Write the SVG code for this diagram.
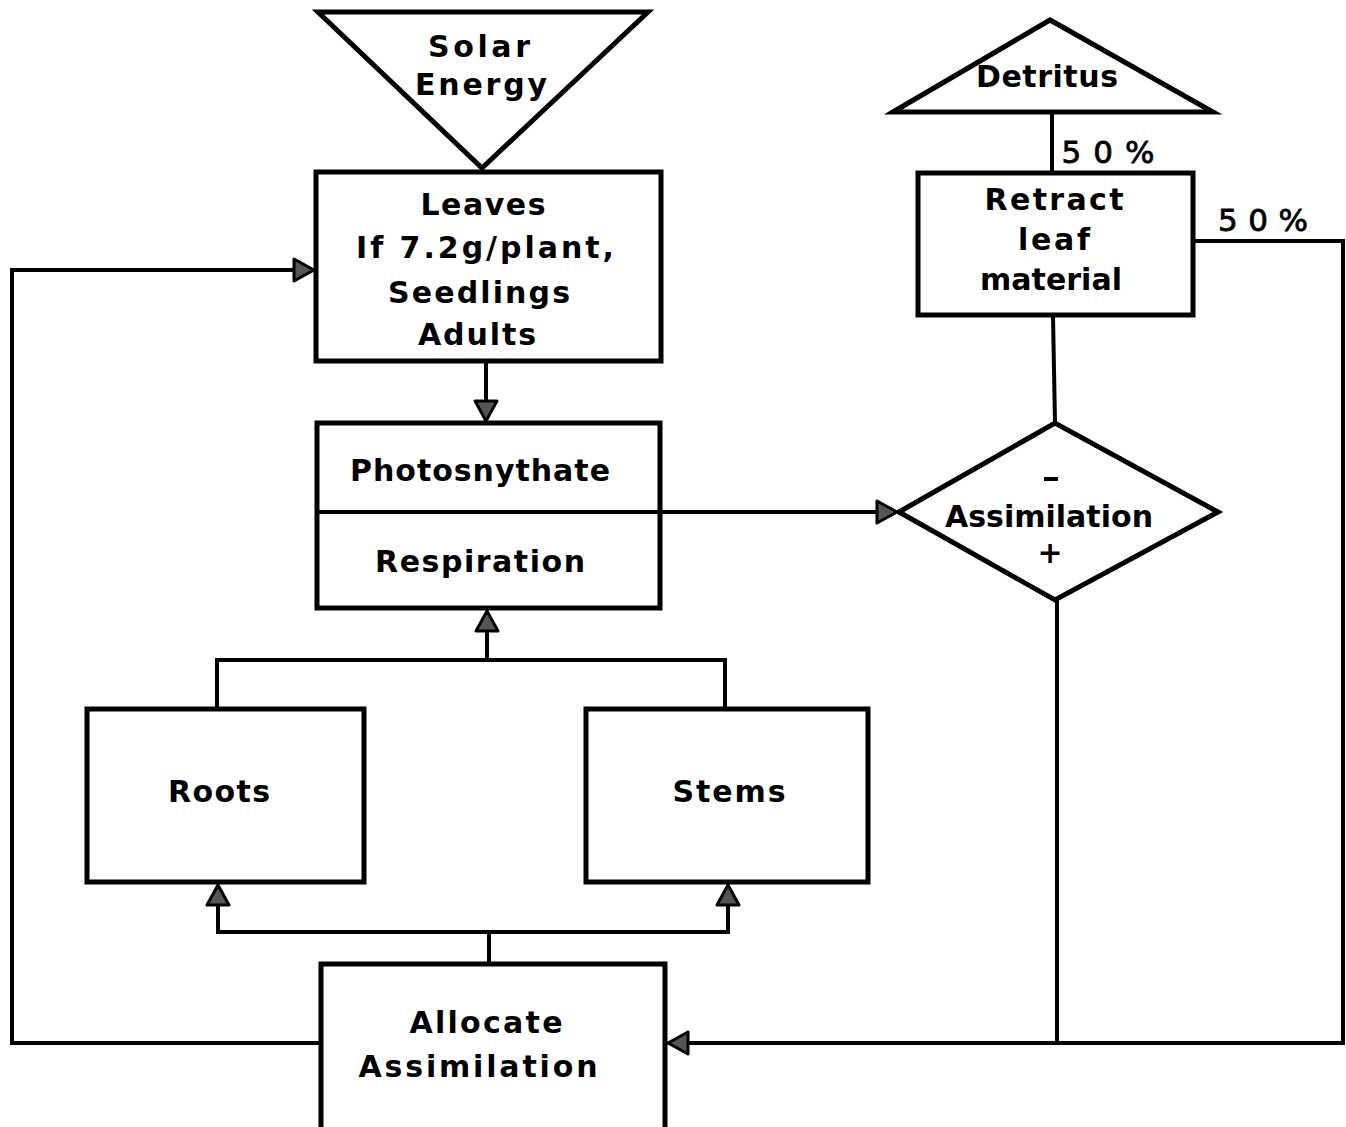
<svg xmlns="http://www.w3.org/2000/svg" width="1346" height="1127" viewBox="0 0 1346 1127">
<style>
.box{fill:#fff;stroke:#000;stroke-width:5;stroke-linejoin:miter}
.ln{fill:none;stroke:#000;stroke-width:4}
.ah{fill:#555;stroke:#000;stroke-width:3;stroke-linejoin:round}
text{font-family:"DejaVu Sans","Liberation Sans",Arial,sans-serif;font-weight:bold;font-size:30px;fill:#000;text-anchor:middle}
.pct{font-size:31px;font-weight:normal;stroke:#000;stroke-width:0.8}
</style>
<rect width="1346" height="1127" fill="#fff"/>
<g id="connectors">
<line class="ln" x1="486" y1="362" x2="486" y2="404"/>
<path class="ah" d="M475,401 L497,401 L486,421 Z"/>
<line class="ln" x1="661" y1="512" x2="880" y2="512"/>
<path class="ah" d="M877,501 L877,523 L897,512 Z"/>
<path class="ln" d="M217,708 V660 H725 V708"/>
<line class="ln" x1="487" y1="660" x2="487" y2="628"/>
<path class="ah" d="M476,631 L498,631 L487,611 Z"/>
<path class="ln" d="M489,963 V932 H218 V902"/>
<path class="ln" d="M489,932 H728 V902"/>
<path class="ah" d="M207,905 L229,905 L218,885 Z"/>
<path class="ah" d="M717,905 L739,905 L728,885 Z"/>
<path class="ln" d="M320,1043 H12 V270 H296"/>
<path class="ah" d="M294,259 L294,281 L314,270 Z"/>
<line class="ln" x1="1052" y1="112" x2="1052" y2="172"/>
<line class="ln" x1="1053" y1="316" x2="1055" y2="423"/>
<line class="ln" x1="1057" y1="600" x2="1057" y2="1043"/>
<path class="ln" d="M1193,241 H1343 V1043 H686"/>
<path class="ah" d="M688,1032 L688,1054 L668,1043 Z"/>
</g>
<g id="solar">
<path class="box" d="M318,12 L648,12 L482,168 Z"/>
<text x="479" y="57" textLength="102" lengthAdjust="spacing">Solar</text>
<text x="481" y="95" textLength="132" lengthAdjust="spacing">Energy</text>
</g>
<g id="leaves">
<rect class="box" x="316" y="172" width="345" height="189"/>
<text x="483" y="215" textLength="125" lengthAdjust="spacing">Leaves</text>
<text x="485" y="258" textLength="258" lengthAdjust="spacing">If 7.2g/plant,</text>
<text x="479" y="303" textLength="182" lengthAdjust="spacing">Seedlings</text>
<text x="477" y="345" textLength="118" lengthAdjust="spacing">Adults</text>
</g>
<g id="photosynthate">
<rect class="box" x="317" y="423" width="343" height="185"/>
<line class="ln" x1="317" y1="512" x2="660" y2="512" stroke-width="4.5"/>
<text x="480" y="481" textLength="260" lengthAdjust="spacing">Photosnythate</text>
<text x="480" y="572" textLength="210" lengthAdjust="spacing">Respiration</text>
</g>
<g id="assimilation">
<path class="box" d="M899,512 L1055,423 L1218,512 L1055,600 Z"/>
<line x1="1044" y1="479" x2="1058" y2="479" stroke="#000" stroke-width="4"/>
<text x="1049" y="527" textLength="208" lengthAdjust="spacing">Assimilation</text>
<text x="1050" y="563">+</text>
</g>
<g id="detritus">
<path class="box" d="M893,112 L1050,20 L1213,112 Z"/>
<text x="1047" y="87" textLength="142" lengthAdjust="spacing">Detritus</text>
</g>
<g id="retract">
<rect class="box" x="918" y="173" width="275" height="142"/>
<text x="1054" y="210" textLength="139" lengthAdjust="spacing">Retract</text>
<text x="1054" y="250" textLength="72" lengthAdjust="spacing">leaf</text>
<text x="1051" y="290" textLength="142" lengthAdjust="spacing">material</text>
</g>
<text class="pct" x="1108" y="163" textLength="93" lengthAdjust="spacing">50%</text>
<text class="pct" x="1263" y="231" textLength="90" lengthAdjust="spacing">50%</text>
<g id="roots">
<rect class="box" x="87" y="709" width="277" height="173"/>
<text x="219" y="802" textLength="102" lengthAdjust="spacing">Roots</text>
</g>
<g id="stems">
<rect class="box" x="586" y="709" width="282" height="173"/>
<text x="729" y="802" textLength="113" lengthAdjust="spacing">Stems</text>
</g>
<g id="allocate">
<rect class="box" x="321" y="964" width="344" height="175"/>
<text x="486" y="1033" textLength="153" lengthAdjust="spacing">Allocate</text>
<text x="478" y="1077" textLength="239" lengthAdjust="spacing">Assimilation</text>
</g>
</svg>
